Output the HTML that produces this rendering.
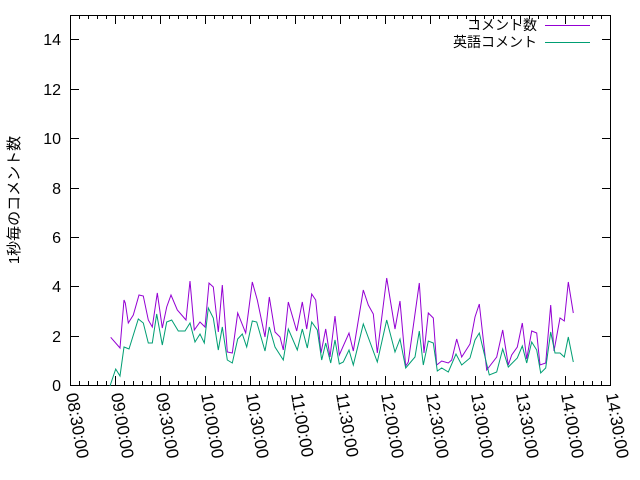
<!DOCTYPE html>
<html><head><meta charset="utf-8"><style>
html,body{margin:0;padding:0;background:#fff;}
svg{display:block;font-family:"Liberation Sans","Noto Sans CJK JP",sans-serif;}
</style></head><body>
<svg width="640" height="480" viewBox="0 0 640 480" xmlns="http://www.w3.org/2000/svg">
<rect width="640" height="480" fill="#fff"/>
<g stroke="#000" stroke-width="1" fill="none" shape-rendering="crispEdges">
<rect x="70.5" y="15.5" width="540" height="370"/>
<path d="M70 385.5h9M602 385.5h9M70 336.5h9M602 336.5h9M70 286.5h9M602 286.5h9M70 237.5h9M602 237.5h9M70 188.5h9M602 188.5h9M70 138.5h9M602 138.5h9M70 89.5h9M602 89.5h9M70 39.5h9M602 39.5h9"/>
<path d="M70.5 385v-9M115.5 385v-9M160.5 385v-9M205.5 385v-9M250.5 385v-9M295.5 385v-9M340.5 385v-9M385.5 385v-9M430.5 385v-9M475.5 385v-9M520.5 385v-9M565.5 385v-9M610.5 385v-9
M70.5 15v9M115.5 15v9M160.5 15v9M205.5 15v9M250.5 15v9M295.5 15v9M340.5 15v9M385.5 15v9M430.5 15v9M475.5 15v9M520.5 15v9M565.5 15v9"/>
<path id="minor" d="M79.5 385v-4M88.5 385v-4M97.5 385v-4M106.5 385v-4M124.5 385v-4M133.5 385v-4M142.5 385v-4M151.5 385v-4M169.5 385v-4M178.5 385v-4M187.5 385v-4M196.5 385v-4M214.5 385v-4M223.5 385v-4M232.5 385v-4M241.5 385v-4M259.5 385v-4M268.5 385v-4M277.5 385v-4M286.5 385v-4M304.5 385v-4M313.5 385v-4M322.5 385v-4M331.5 385v-4M349.5 385v-4M358.5 385v-4M367.5 385v-4M376.5 385v-4M394.5 385v-4M403.5 385v-4M412.5 385v-4M421.5 385v-4M439.5 385v-4M448.5 385v-4M457.5 385v-4M466.5 385v-4M484.5 385v-4M493.5 385v-4M502.5 385v-4M511.5 385v-4M529.5 385v-4M538.5 385v-4M547.5 385v-4M556.5 385v-4M574.5 385v-4M583.5 385v-4M592.5 385v-4M601.5 385v-4"/>
<path d="M79.5 15v4M88.5 15v4M97.5 15v4M106.5 15v4M124.5 15v4M133.5 15v4M142.5 15v4M151.5 15v4M169.5 15v4M178.5 15v4M187.5 15v4M196.5 15v4M214.5 15v4M223.5 15v4M232.5 15v4M241.5 15v4M259.5 15v4M268.5 15v4M277.5 15v4M286.5 15v4M304.5 15v4M313.5 15v4M322.5 15v4M331.5 15v4M349.5 15v4M358.5 15v4M367.5 15v4M376.5 15v4M394.5 15v4M403.5 15v4M412.5 15v4M421.5 15v4M439.5 15v4M448.5 15v4M457.5 15v4M466.5 15v4M484.5 15v4M493.5 15v4M502.5 15v4M511.5 15v4M529.5 15v4M538.5 15v4M547.5 15v4M556.5 15v4M574.5 15v4M583.5 15v4M592.5 15v4M601.5 15v4"/>
</g>
<g font-size="16" text-anchor="end" fill="#000">
<text x="61" y="391">0</text><text x="61" y="342">2</text><text x="61" y="292">4</text><text x="61" y="243">6</text><text x="61" y="194">8</text><text x="61" y="144">10</text><text x="61" y="95">12</text><text x="61" y="45">14</text>
</g>
<text transform="translate(19,200) rotate(-90)" font-size="15" text-anchor="middle">1秒毎のコメント数</text>
<g font-size="17" fill="#000">
<text transform="translate(66,394) rotate(80)">08:30:00</text>
<text transform="translate(111,394) rotate(80)">09:00:00</text>
<text transform="translate(156,394) rotate(80)">09:30:00</text>
<text transform="translate(201,394) rotate(80)">10:00:00</text>
<text transform="translate(246,394) rotate(80)">10:30:00</text>
<text transform="translate(291,394) rotate(80)">11:00:00</text>
<text transform="translate(336,394) rotate(80)">11:30:00</text>
<text transform="translate(381,394) rotate(80)">12:00:00</text>
<text transform="translate(426,394) rotate(80)">12:30:00</text>
<text transform="translate(471,394) rotate(80)">13:00:00</text>
<text transform="translate(516,394) rotate(80)">13:30:00</text>
<text transform="translate(561,394) rotate(80)">14:00:00</text>
<text transform="translate(606,394) rotate(80)">14:30:00</text>
</g>
<g font-size="14" text-anchor="end">
<text x="537" y="30">コメント数</text>
<text x="537" y="47">英語コメント</text>
</g>
<path d="M545 25.5h45" stroke="#9400d3"/>
<path d="M545 42.5h45" stroke="#009e73"/>
<polyline fill="none" stroke="#9400d3" stroke-width="1" points="110.7,337.3 120,348 124,300 125.3,303 128.3,323 133.3,315 139,295 143.3,296 148.3,320 152.3,327 157.3,293 162.3,328 166.7,307 171,295 177.3,310 186,320 190,281 194.3,330 200,322 205,327 209,283 213.3,287 218.3,332 222.3,285 227.3,352 232.3,353 237.7,313 245.7,333 252.3,282 257.3,300 265,337 269.3,297 275,332 280,337 283.3,350 288.3,302 296.7,331 302.3,302 306.7,329 311.7,294 315.7,300 321,353 325.7,329 330,357 335,316 339.3,355 349,333 353.3,351 363.3,290 368.3,305 373.3,314 377.3,353 386.7,278 395,329 400,301 405.7,366 408.3,362 419.3,283 424,353 428.3,313 433.3,318 436.7,365 441.7,361 448.3,363 451.7,360 456.7,339 461.7,357 470,344 475,317 479.3,304 486.7,370 496.7,357 502.7,330 508.3,365 511.7,355 517.3,347 522.3,323 526.7,359 531.7,331 536.7,333 540,365 545.7,363 550.7,305 554,351 560,318 564.3,321 568.3,282 573.3,313"/>
<polyline fill="none" stroke="#009e73" stroke-width="1" points="110,386 115.7,369 120,376 124,347 129,349 138.3,319 143.3,323 148.3,343 152.3,343 156.7,314 162.3,345 166.7,322 171.7,320 178.3,331 185,331 190,323 195,342 200,334 204.3,343 208.3,308 213.3,318 218.3,350 222.3,327 227.3,360 232.3,363 237.7,339 242.3,334 246.7,347 252.3,321 256.7,322 265,351 269.3,327 275,347 283.3,360 288.3,329 297.3,350 302.3,329 307.3,348 311.7,322 317.3,330 321.7,360 325.7,343 330.7,363 335,340 339.3,364 343.3,362 349,350 353.3,365 363.3,324 377.3,362 386.7,320 395,352 400,339 405.7,368 415,357 419.3,331 423.3,365 428.3,341 433.3,343 437.3,371 441.7,368 448.3,372 456,354 461.7,365 470,358 475,340 479.3,333 489.3,375 496.7,372 502.7,349 508.3,367 517.3,358 522.3,346 526.7,363 531.7,342 536.7,350 540.7,373 545.7,368 550.7,332 555,353 560,353 564.3,357 568.3,337 573.3,362"/>
</svg>
</body></html>
